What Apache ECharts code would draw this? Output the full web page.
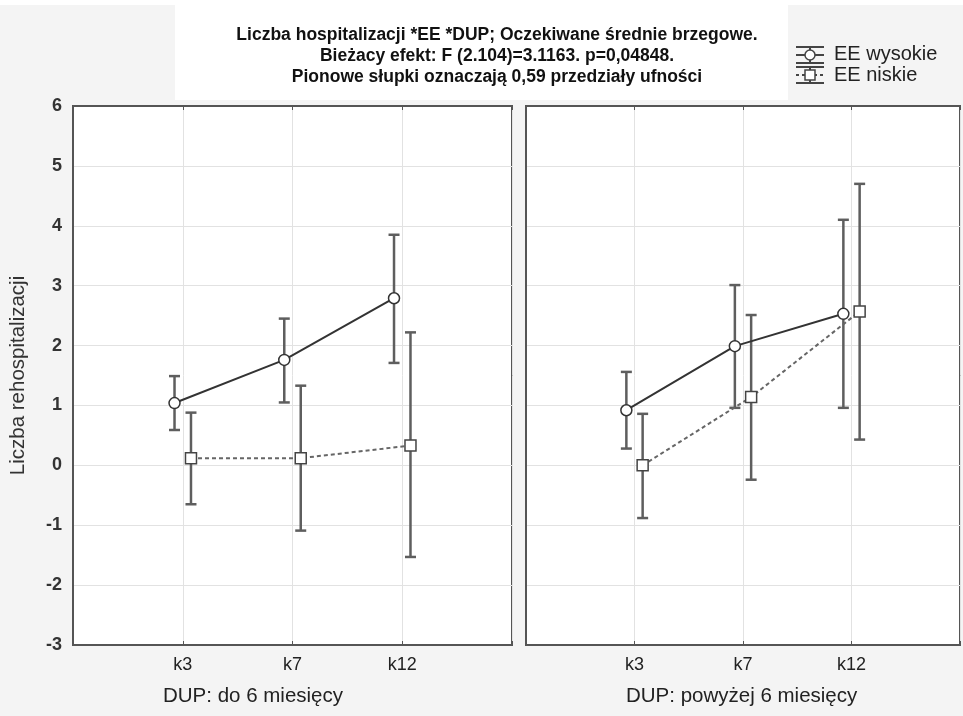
<!DOCTYPE html>
<html>
<head>
<meta charset="utf-8">
<script src="https://cdn.jsdelivr.net/npm/echarts@6/dist/echarts.min.js"></script>
<style>
html,body{margin:0;padding:0;background:#f4f4f4;}
#c{width:963px;height:716px;}
</style>
</head>
<body>
<div id="c"></div>
<script>
// ---- data ----
var categories = ['k3', 'k7', 'k12'];
var panelNames = ['DUP: do 6 miesięcy', 'DUP: powyżej 6 miesięcy'];
var seriesNames = ['EE wysokie', 'EE niskie'];
var yTicks = [-3, -2, -1, 0, 1, 2, 3, 4, 5, 6];

// panel 1: DUP do 6 miesięcy
var highP1 = [1.04, 1.76, 2.79];
var highP1Lo = [0.59, 1.05, 1.71];
var highP1Hi = [1.49, 2.45, 3.85];
var lowP1 = [0.12, 0.12, 0.33];
var lowP1Lo = [-0.65, -1.09, -1.53];
var lowP1Hi = [0.88, 1.33, 2.22];

// panel 2: DUP powyżej 6 miesięcy
var highP2 = [0.92, 1.99, 2.53];
var highP2Lo = [0.28, 0.96, 0.96];
var highP2Hi = [1.56, 3.01, 4.10];
var lowP2 = [0.00, 1.14, 2.57];
var lowP2Lo = [-0.88, -0.24, 0.43];
var lowP2Hi = [0.86, 2.51, 4.70];

var titleLines = [
  'Liczba hospitalizacji *EE *DUP; Oczekiwane średnie brzegowe.',
  'Bieżacy efekt: F (2.104)=3.1163. p=0,04848.',
  'Pionowe słupki oznaczają 0,59 przedziały ufności'
];
var yAxisTitle = 'Liczba rehospitalizacji';

// ---- build ----
var OFF = 0.075;
var SANS = '"Liberation Sans", Arial, sans-serif';

function pts(vals, off) {
  return vals.map(function (v, i) { return [i + 1 + off, v]; });
}
function errs(lo, hi, off) {
  return lo.map(function (l, i) { return [i + 1 + off, l, hi[i]]; });
}
function errRender(params, api) {
  var x = api.value(0);
  var p1 = api.coord([x, api.value(1)]);
  var p2 = api.coord([x, api.value(2)]);
  var hw = 5.5;
  var st = { stroke: '#5e5e5e', lineWidth: 2.5 };
  return {
    type: 'group',
    children: [
      { type: 'line', shape: { x1: p1[0], y1: p1[1], x2: p2[0], y2: p2[1] }, style: st },
      { type: 'line', shape: { x1: p1[0] - hw, y1: p1[1], x2: p1[0] + hw, y2: p1[1] }, style: st },
      { type: 'line', shape: { x1: p2[0] - hw, y1: p2[1], x2: p2[0] + hw, y2: p2[1] }, style: st }
    ]
  };
}

var grids = [
  { left: 73, top: 106, width: 439, height: 539, show: true, backgroundColor: '#fff', borderColor: '#555', borderWidth: 2 },
  { left: 526, top: 106, width: 440, height: 539, show: true, backgroundColor: '#fff', borderColor: '#555', borderWidth: 2 }
];

var xAxes = [], yAxes = [];
[0, 1].forEach(function (g) {
  xAxes.push({
    type: 'value', gridIndex: g, min: 0, max: 4, interval: 1, position: 'bottom',
    axisLine: { show: true, onZero: false, lineStyle: { color: '#555', width: 2 } },
    axisTick: { show: true, inside: true, length: 4, lineStyle: { color: '#555' } },
    splitLine: { show: true, lineStyle: { color: '#e2e2e2', width: 1 } },
    axisLabel: {
      margin: 11, fontFamily: SANS, fontSize: 18, color: '#222',
      formatter: function (v) { return categories[v - 1] || ''; }
    }
  });
  xAxes.push({
    type: 'value', gridIndex: g, min: 0, max: 4, interval: 1, position: 'top',
    axisLine: { show: true, onZero: false, lineStyle: { color: '#555', width: 2 } },
    axisTick: { show: true, inside: true, length: 4, lineStyle: { color: '#555' } },
    splitLine: { show: false }, axisLabel: { show: false }
  });
  yAxes.push({
    type: 'value', gridIndex: g, min: -3, max: 6, interval: 1,
    name: g === 0 ? yAxisTitle : '', nameLocation: 'middle', nameGap: 44,
    nameTextStyle: { fontFamily: SANS, fontSize: 20.5, color: '#333' },
    axisLine: { show: true, onZero: false, lineStyle: { color: '#555', width: 2 } },
    axisTick: { show: false },
    splitLine: { show: true, lineStyle: { color: '#e2e2e2', width: 1 } },
    axisLabel: {
      show: g === 0, margin: 11, fontFamily: SANS, fontWeight: 'bold', fontSize: 18, color: '#333',
      formatter: function (v) { return yTicks.indexOf(v) >= 0 ? String(v) : ''; }
    }
  });
});

var panelData = [
  { high: highP1, hLo: highP1Lo, hHi: highP1Hi, low: lowP1, lLo: lowP1Lo, lHi: lowP1Hi },
  { high: highP2, hLo: highP2Lo, hHi: highP2Hi, low: lowP2, lLo: lowP2Lo, lHi: lowP2Hi }
];

var series = [];
panelData.forEach(function (d, g) {
  var xi = g * 2, yi = g;
  series.push({
    type: 'custom', name: seriesNames[0] + ' CI', xAxisIndex: xi, yAxisIndex: yi, z: 2,
    renderItem: errRender, data: errs(d.hLo, d.hHi, -OFF), silent: true
  });
  series.push({
    type: 'custom', name: seriesNames[1] + ' CI', xAxisIndex: xi, yAxisIndex: yi, z: 2,
    renderItem: errRender, data: errs(d.lLo, d.lHi, OFF), silent: true
  });
  series.push({
    type: 'line', name: seriesNames[1], xAxisIndex: xi, yAxisIndex: yi, z: 3,
    data: pts(d.low, OFF), symbol: 'rect', symbolSize: 11,
    lineStyle: { color: '#666', width: 2, type: [4, 3] },
    itemStyle: { color: '#fff', borderColor: '#444', borderWidth: 1.5 },
    silent: true
  });
  series.push({
    type: 'line', name: seriesNames[0], xAxisIndex: xi, yAxisIndex: yi, z: 4,
    data: pts(d.high, -OFF), symbol: 'circle', symbolSize: 11,
    lineStyle: { color: '#333', width: 2 },
    itemStyle: { color: '#fff', borderColor: '#333', borderWidth: 1.5 },
    silent: true
  });
});

// legend drawn as graphic (error-bar style icons)
function legendIcon(y, sym, dashed) {
  var x0 = 796, x1 = 824, st = { stroke: '#444', lineWidth: 2 };
  var items = [
    { type: 'line', shape: { x1: x0, y1: y - 8, x2: x1, y2: y - 8 }, style: st },
    { type: 'line', shape: { x1: x0, y1: y + 8, x2: x1, y2: y + 8 }, style: st },
    { type: 'line', shape: { x1: (x0 + x1) / 2, y1: y - 8, x2: (x0 + x1) / 2, y2: y + 8 }, style: st },
    { type: 'line', shape: { x1: x0, y1: y, x2: x1, y2: y }, style: { stroke: '#444', lineWidth: 2, lineDash: dashed ? [3, 3] : null } }
  ];
  if (sym === 'circle') items.push({ type: 'circle', shape: { cx: (x0 + x1) / 2, cy: y, r: 5 }, style: { fill: '#fff', stroke: '#444', lineWidth: 1.5 } });
  else items.push({ type: 'rect', shape: { x: (x0 + x1) / 2 - 5, y: y - 5, width: 10, height: 10 }, style: { fill: '#fff', stroke: '#444', lineWidth: 1.5 } });
  return items;
}

var graphics = [
  { type: 'rect', z: -10, shape: { x: 175, y: 0, width: 613, height: 100 }, style: { fill: '#fff' } },
  { type: 'rect', z: -10, shape: { x: 0, y: 0, width: 963, height: 5 }, style: { fill: '#fff' } },
  { type: 'text', left: 163, top: 686, style: { text: panelNames[0], fontFamily: SANS, fontSize: 20.5, fill: '#222' } },
  { type: 'text', left: 626, top: 686, style: { text: panelNames[1], fontFamily: SANS, fontSize: 20.5, fill: '#222' } },
  { type: 'text', left: 834, top: 44, style: { text: seriesNames[0], fontFamily: SANS, fontSize: 20, fill: '#222' } },
  { type: 'text', left: 834, top: 65, style: { text: seriesNames[1], fontFamily: SANS, fontSize: 20, fill: '#222' } }
].concat(legendIcon(55, 'circle', false)).concat(legendIcon(75, 'rect', true));

var chart = echarts.init(document.getElementById('c'), null, { renderer: 'canvas' });
chart.setOption({
  backgroundColor: '#f4f4f4',
  animation: false,
  title: {
    text: titleLines.join('\n'), left: 492, top: 20, textAlign: 'center',
    textStyle: { fontFamily: SANS, fontWeight: 'bold', fontSize: 17.5, lineHeight: 21, color: '#111' }
  },
  grid: grids,
  xAxis: xAxes,
  yAxis: yAxes,
  series: series,
  graphic: graphics
});
</script>
</body>
</html>
